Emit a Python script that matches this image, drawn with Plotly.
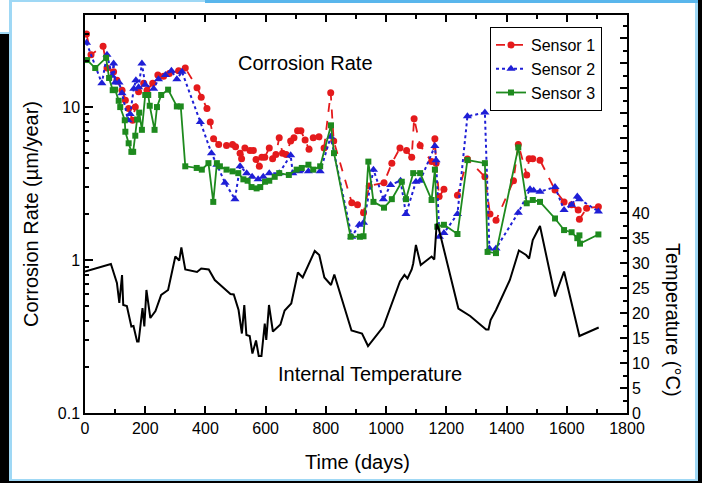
import plotly.graph_objects as go

# ---------------- data ----------------
temp_days = [0, 79, 86, 106, 114, 123, 127, 139, 154, 161, 173, 178, 191, 197, 204, 217, 234, 253, 276,
             300, 313, 320, 333, 372, 386, 411, 431, 455, 483, 494, 510, 521, 529, 536, 547, 556, 568,
             577, 586, 597, 602, 611, 624, 649, 663, 685, 707, 723, 763, 778, 795, 817, 828, 885, 920,
             940, 991, 1046, 1061, 1071, 1085, 1090, 1099, 1115, 1144, 1151, 1160, 1168, 1176, 1240,
             1279, 1332, 1340, 1347, 1365, 1411, 1441, 1465, 1475, 1487, 1511, 1561, 1591, 1642, 1706]
temp_vals = [28.3, 29.8, 29.8, 26.0, 22.0, 27.6, 21.6, 21.4, 17.3, 17.4, 14.3, 14.3, 21.0, 17.3, 24.6,
             19.0, 20.4, 23.6, 24.6, 31.3, 30.5, 33.1, 28.7, 28.2, 28.9, 28.7, 26.6, 25.3, 23.8, 23.7,
             20.6, 15.9, 21.6, 15.6, 15.4, 11.9, 14.5, 11.4, 11.4, 17.9, 14.6, 21.6, 16.3, 17.7, 20.5,
             21.9, 28.1, 27.1, 32.4, 31.6, 27.1, 25.6, 27.7, 16.5, 15.9, 13.4, 17.3, 26.3, 27.6, 26.9,
             28.7, 29.9, 33.6, 29.6, 30.9, 31.3, 30.7, 37.9, 36.6, 20.9, 19.4, 16.7, 16.7, 18.6, 20.6,
             26.6, 32.5, 31.6, 30.9, 34.6, 37.4, 23.3, 28.3, 15.4, 17.1]

s1_days = [5, 20, 60, 73, 95, 106, 123, 134, 145, 158, 167, 178, 195, 206, 225, 242, 261, 280, 311, 333,
           372, 386, 405, 416, 427, 444, 470, 490, 500, 515, 520, 531, 548, 559, 568, 579, 587, 597, 612,
           623, 634, 645, 656, 668, 683, 694, 706, 717, 731, 744, 758, 777, 794, 816, 826, 886, 905, 925,
           944, 993, 1019, 1046, 1068, 1085, 1093, 1113, 1151, 1162, 1166, 1176, 1192, 1237, 1270, 1328,
           1345, 1365, 1423, 1439, 1467, 1475, 1487, 1511, 1561, 1591, 1616, 1638, 1642, 1666, 1705]
s1_vals = [30, 22, 25, 18, 17, 15, 12.9, 11.1, 9.8, 8.2, 10, 12.6, 14.3, 12.9, 14.3, 16.2, 15.9, 16.6,
           17.3, 18, 13.4, 11.6, 9.8, 8.0, 6.2, 5.7, 5.6, 5.7, 5.5, 5.0, 4.6, 5.4, 5.2, 5.2, 4.55, 4.1,
           4.7, 4.7, 5.4, 4.6, 4.9, 6.3, 5.0, 4.9, 6.0, 6.3, 7.0, 7.0, 6.1, 5.3, 6.3, 6.4, 5.4, 12.4, 6.0,
           2.37, 2.3, 2.04, 3.05, 3.2, 4.3, 5.4, 5.2, 4.7, 8.4, 5.6, 4.4, 6.2, 4.3, 2.6, 2.9, 2.65, 4.57,
           3.5, 2.0, 1.82, 3.3, 5.7, 3.6, 4.6, 4.6, 4.5, 2.87, 2.4, 2.3, 2.12, 1.85, 2.18, 2.23]

s2_days = [5, 56, 73, 90, 95, 100, 113, 123, 143, 150, 162, 169, 178, 189, 200, 228, 244, 267, 287, 305,
           322, 383, 420, 438, 465, 498, 515, 537, 555, 575, 592, 612, 645, 683, 690, 710, 742, 781, 816,
           886, 911, 925, 958, 991, 1015, 1048, 1066, 1099, 1113, 1162, 1166, 1177, 1192, 1237, 1270,
           1328, 1343, 1365, 1439, 1478, 1490, 1511, 1561, 1591, 1616, 1635, 1642, 1705]
s2_vals = [26.3, 14.3, 22, 16, 19.3, 14.5, 14.5, 12.3, 8.2, 9, 13.2, 15, 13.5, 19.3, 14, 13.2, 15.2,
           16.2, 17.3, 15.2, 17, 8.0, 5.0, 4.2, 3.2, 2.5, 4.1, 3.7, 3.5, 3.37, 3.5, 3.7, 3.7, 4.85, 3.7,
           3.8, 3.8, 3.8, 6.4, 1.42, 1.7, 1.75, 3.9, 2.5, 3.1, 3.3, 2.0, 3.25, 3.3, 5.56, 4.5, 1.42, 1.5,
           2.0, 8.7, 9.2, 1.19, 1.19, 2.04, 2.9, 2.85, 2.8, 3.0, 2.12, 2.3, 2.6, 2.5, 2.08]

s3_days = [7, 34, 70, 80, 92, 100, 112, 117, 132, 134, 145, 154, 160, 167, 173, 180, 189, 200, 210, 215,
           231, 239, 253, 276, 305, 318, 333, 371, 388, 410, 426, 438, 448, 470, 490, 509, 526, 540, 553,
           570, 582, 598, 612, 630, 645, 677, 703, 720, 742, 758, 781, 817, 827, 882, 913, 925, 941, 958,
           993, 1019, 1052, 1066, 1090, 1113, 1151, 1162, 1170, 1192, 1237, 1270, 1328, 1337, 1365, 1439,
           1467, 1487, 1511, 1561, 1591, 1616, 1635, 1642, 1644, 1705]
s3_vals = [20.3, 18, 21, 15.5, 12.9, 13, 11, 10, 8.2, 6.9, 5.8, 5.1, 5.1, 6.5, 8.3, 9.2, 7.1, 12, 12,
           10.2, 7.1, 10, 12, 13, 10.1, 10.1, 4.1, 4.0, 3.9, 4.3, 2.4, 4.3, 4.1, 3.9, 3.8, 3.7, 3.37, 3.3,
           3.0, 2.94, 3.0, 3.25, 3.3, 3.5, 3.7, 3.6, 3.9, 4.0, 4.2, 3.9, 4.1, 7.6, 5.0, 1.42, 1.42, 1.43,
           4.4, 2.4, 2.2, 2.5, 3.25, 2.5, 3.7, 3.7, 2.47, 3.9, 1.65, 1.7, 1.48, 4.5, 4.3, 1.13, 1.11,
           5.45, 2.35, 2.47, 2.4, 1.87, 1.57, 1.52, 1.39, 1.45, 1.28, 1.47]

x_ticks = [0, 200, 400, 600, 800, 1000, 1200, 1400, 1600, 1800]
y_ticks = [0.1, 1, 10]
y_minor = [0.2, 0.3, 0.4, 0.5, 0.6, 0.7, 0.8, 0.9, 2, 3, 4, 5, 6, 7, 8, 9, 20, 30, 40]
t_ticks = list(range(0, 80, 5))
t_labels = [str(v) if v <= 40 else "" for v in t_ticks]

# ---------------- figure ----------------
FONT = "Liberation Sans, Arial, sans-serif"
W, H = 702, 483
L, R, T, B = 85, 75, 15, 70
PW, PH = W - L - R, H - T - B


def px(x):
    return (x - L) / PW


def py(y):
    return (H - B - y) / PH


RED = "#e41a1c"
BLUE = "#1f1fd6"
GREEN = "#1e8a1e"

fig = go.Figure()
fig.add_trace(go.Scatter(x=temp_days, y=temp_vals, yaxis="y2", mode="lines",
                         line=dict(color="black", width=2), showlegend=False, name="Temperature"))
fig.add_trace(go.Scatter(x=s1_days, y=s1_vals, mode="lines+markers", name="Sensor 1",
                         line=dict(color=RED, width=1.8, dash="dash"),
                         marker=dict(symbol="circle", size=7, color=RED)))
fig.add_trace(go.Scatter(x=s2_days, y=s2_vals, mode="lines+markers", name="Sensor 2",
                         line=dict(color=BLUE, width=2, dash="dot"),
                         marker=dict(symbol="triangle-up", size=8, color=BLUE)))
fig.add_trace(go.Scatter(x=s3_days, y=s3_vals, mode="lines+markers", name="Sensor 3",
                         line=dict(color=GREEN, width=1.8),
                         marker=dict(symbol="square", size=6, color=GREEN)))

axis_common = dict(showgrid=False, zeroline=False, showline=True, linecolor="black", linewidth=1.5,
                   ticks="inside", tickcolor="black", tickwidth=1.5,
                   tickfont=dict(family=FONT, size=16, color="black"))

fig.update_layout(
    width=W, height=H,
    margin=dict(l=L, r=R, t=T, b=B),
    paper_bgcolor="white", plot_bgcolor="white",
    font=dict(family=FONT, color="black"),
    xaxis=dict(range=[0, 1800], tickvals=x_ticks, ticklen=7, mirror="ticks",
               minor=dict(dtick=100, ticklen=4, ticks="inside", tickcolor="black"), **axis_common),
    yaxis=dict(type="log", range=[-1, 1.602], tickvals=y_ticks, ticktext=["0.1", "1", "10"],
               ticklen=8, minor=dict(tickvals=y_minor, ticklen=4, ticks="inside", tickcolor="black"),
               **axis_common),
    yaxis2=dict(overlaying="y", side="right", range=[0, 79.6], tickvals=t_ticks, ticktext=t_labels,
                ticklen=7, minor=dict(dtick=2.5, ticklen=4, ticks="inside", tickcolor="black"),
                **axis_common),
    legend=dict(x=px(490), y=py(27), xanchor="left", yanchor="top", bgcolor="white",
                bordercolor="black", borderwidth=1, font=dict(family=FONT, size=16, color="black"),
                tracegroupgap=0),
    showlegend=True,
)

ann = dict(xref="paper", yref="paper", showarrow=False, xanchor="center", yanchor="middle",
           font=dict(family=FONT, size=20, color="black"))
fig.add_annotation(text="Corrosion Rate", x=px(305), y=py(63), **ann)
fig.add_annotation(text="Internal Temperature", x=px(370), y=py(374), **ann)
fig.add_annotation(text="Time (days)", x=px(357), y=py(462), **ann)
fig.add_annotation(text="Corrosion Rate (µm/year)", x=px(31), y=py(214), textangle=-90, **ann)
fig.add_annotation(text="Temperature (°C)", x=px(673), y=py(320), textangle=90, **ann)

# decorative frame around the chart
LB = "#9fd8f5"


def rect(x0, y0, x1, y1, color):
    fig.add_shape(type="rect", xref="paper", yref="paper", x0=px(x0), x1=px(x1), y0=py(y0), y1=py(y1),
                  fillcolor=color, line=dict(width=0), layer="above")


rect(0, 33, 9, 483, "black")
rect(698, 0, 702, 483, "black")
rect(0, 481, 702, 483, "black")
rect(0, 32, 10, 34, LB)
rect(9, 0, 12, 481, LB)
rect(695, 0, 698, 481, LB)
rect(9, 479, 698, 481, LB)
rect(9, 0, 205, 2, LB)
rect(205, 0, 698, 3, "#59b6ec")

fig.write_html("out.html", config={"displayModeBar": False},
               post_script="document.body.style.margin='0';document.body.style.padding='0';"
                           "document.documentElement.style.overflow='hidden';")
